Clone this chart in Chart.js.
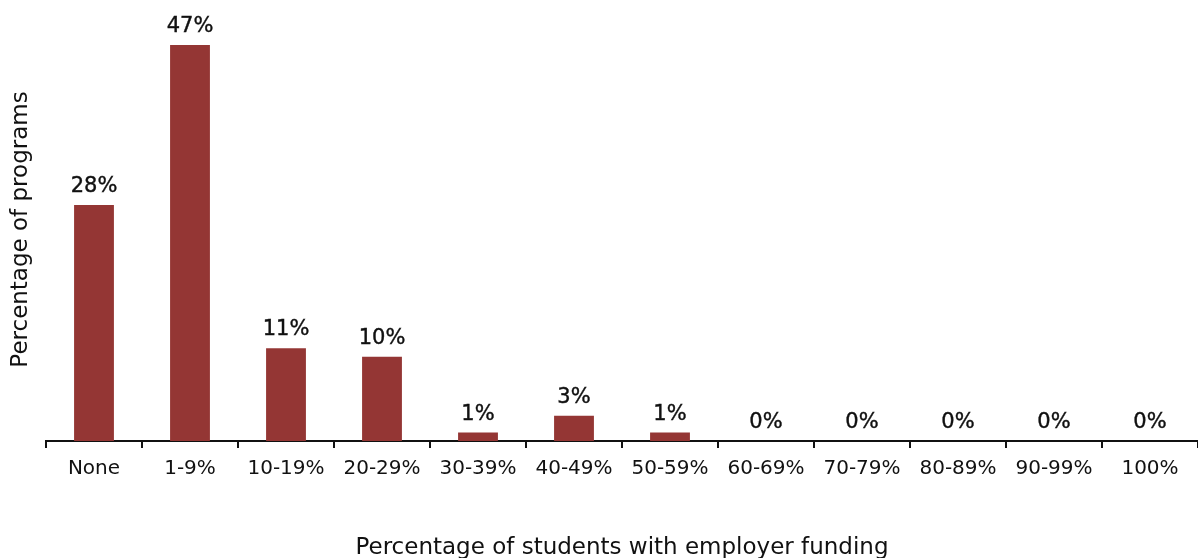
<!DOCTYPE html>
<html><head><meta charset="utf-8">
<script src="https://cdn.jsdelivr.net/npm/chart.js@4"></script>
<style>html,body{margin:0;padding:0;background:#fff}#wrap{width:1198px;height:558px}</style>
</head><body><div id="wrap"><canvas id="c"></canvas></div>
<script>
const categories = ["None","1-9%","10-19%","20-29%","30-39%","40-49%","50-59%","60-69%","70-79%","80-89%","90-99%","100%"];
const values = [28,47,11,10,1,3,1,0,0,0,0,0];
const valueLabels = ["28%","47%","11%","10%","1%","3%","1%","0%","0%","0%","0%","0%"];
const FONT = "'DejaVu Sans', sans-serif";
const labelPlugin = {
  id:'vlabels',
  afterDatasetsDraw(chart){
    const ctx = chart.ctx;
    const meta = chart.getDatasetMeta(0);
    ctx.save();
    ctx.font = "21px " + FONT;
    ctx.fillStyle = "#111";
    ctx.strokeStyle = "#111";
    ctx.lineWidth = 0.4;
    ctx.textAlign = "center";
    ctx.textBaseline = "alphabetic";
    meta.data.forEach((el,i)=>{
      ctx.fillText(valueLabels[i], el.x, el.y - 13);
      ctx.strokeText(valueLabels[i], el.x, el.y - 13);
    });
    ctx.restore();
  }
};
new Chart(document.getElementById('c'),{
  type:'bar',
  data:{labels:categories,datasets:[{data:values,backgroundColor:'#943634',barPercentage:0.415,categoryPercentage:1}]},
  options:{
    responsive:true,maintainAspectRatio:false,animation:false,
    layout:{padding:{left:10,right:0,top:18,bottom:-2}},
    plugins:{legend:{display:false},tooltip:{enabled:false}},
    scales:{
      x:{offset:true,
        grid:{display:true,drawOnChartArea:false,offset:true,tickLength:7,color:'#111',lineWidth:2},
        border:{display:true,color:'#111',width:2},
        ticks:{color:'#111',font:{family:FONT,size:20},padding:9,maxRotation:0},
        title:{display:true,text:'Percentage of students with employer funding',color:'#111',font:{family:FONT,size:23,lineHeight:1},padding:{top:47,bottom:0}}
      },
      y:{min:0,max:50.2,
        grid:{display:false},border:{display:false},
        ticks:{display:false},
        title:{display:true,text:'Percentage of programs',color:'#111',font:{family:FONT,size:23,lineHeight:1},padding:{top:0,bottom:5}}
      }
    }
  },
  plugins:[labelPlugin]
});
</script></body></html>
